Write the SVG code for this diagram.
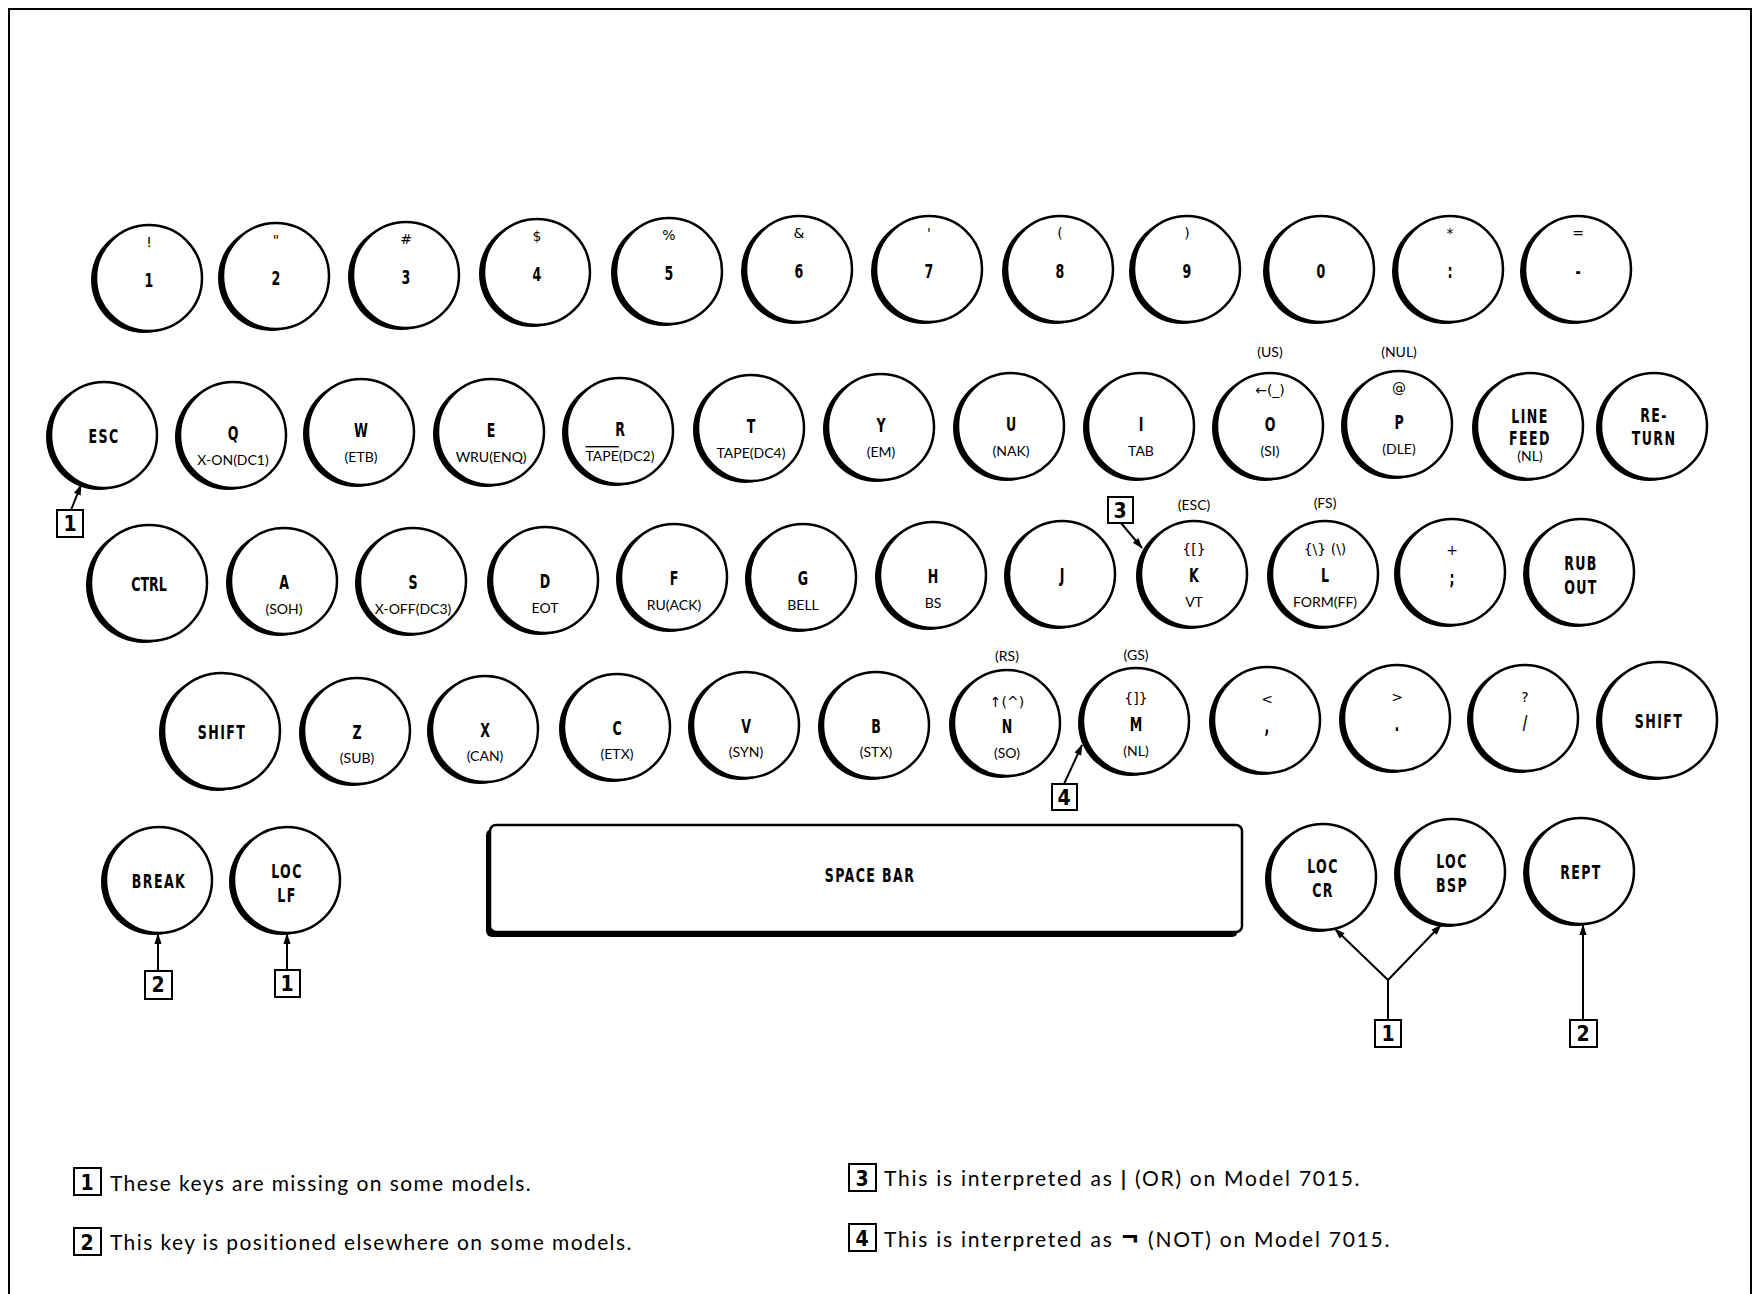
<svg xmlns="http://www.w3.org/2000/svg" xmlns:xlink="http://www.w3.org/1999/xlink" width="1758" height="1294" viewBox="0 0 1758 1294">
<style>
.m{font-family:"Liberation Sans Narrow","DejaVu Sans Condensed",sans-serif;font-weight:700;font-size:20px;text-anchor:middle;fill:#000;transform:scaleX(0.7)}
.w{letter-spacing:2px}
.s{font-family:Lato,"Noto Sans",sans-serif;font-size:14px;text-anchor:middle;fill:#000}
.u{font-family:"DejaVu Sans",sans-serif;font-size:14px;text-anchor:middle;fill:#000}
.fn{font-family:Lato,"Noto Sans",sans-serif;font-size:21px;letter-spacing:1.4px;fill:#000}
.fn2{letter-spacing:1.75px}
.bx{fill:#fff;stroke:#000;stroke-width:2}
.bn{font-family:"Liberation Sans Narrow","DejaVu Sans Condensed",sans-serif;font-weight:700;font-size:21px;text-anchor:middle}
.ln{stroke:#000;stroke-width:2;fill:none}
.fr{stroke:#000;stroke-width:2;fill:none}
</style>
<defs>
<g id="kc"><circle cx="-5" cy="2" r="53" fill="#000"/><circle r="53" fill="#fff" stroke="#000" stroke-width="2.5"/></g>
<g id="kl"><circle cx="-5" cy="2" r="58" fill="#000"/><circle r="58" fill="#fff" stroke="#000" stroke-width="2.5"/></g>
<marker id="ah" viewBox="0 0 12 10" refX="11" refY="5" markerWidth="12" markerHeight="9" orient="auto" markerUnits="userSpaceOnUse"><path d="M0,1 L12,5 L0,9 z" fill="#000"/></marker>
</defs>
<rect width="1758" height="1294" fill="#fff"/>
<g id="frame">
<path class="fr" d="M9,1294 V9 H1751 V1294"/>
</g>

<!-- Row 1 -->
<g id="key-1" transform="translate(149,278)"><use xlink:href="#kc"/><text class="u" y="-31">!</text><text class="m" y="9">1</text></g>
<g id="key-2" transform="translate(276,276)"><use xlink:href="#kc"/><text class="u" y="-31">"</text><text class="m" y="9">2</text></g>
<g id="key-3" transform="translate(406,275)"><use xlink:href="#kc"/><text class="u" y="-31">#</text><text class="m" y="9">3</text></g>
<g id="key-4" transform="translate(537,272)"><use xlink:href="#kc"/><text class="u" y="-31">$</text><text class="m" y="9">4</text></g>
<g id="key-5" transform="translate(669,271)"><use xlink:href="#kc"/><text class="u" y="-31">%</text><text class="m" y="9">5</text></g>
<g id="key-6" transform="translate(799,269)"><use xlink:href="#kc"/><text class="u" y="-31">&amp;</text><text class="m" y="9">6</text></g>
<g id="key-7" transform="translate(929,269)"><use xlink:href="#kc"/><text class="u" y="-31">'</text><text class="m" y="9">7</text></g>
<g id="key-8" transform="translate(1060,269)"><use xlink:href="#kc"/><text class="u" y="-31">(</text><text class="m" y="9">8</text></g>
<g id="key-9" transform="translate(1187,269)"><use xlink:href="#kc"/><text class="u" y="-31">)</text><text class="m" y="9">9</text></g>
<g id="key-0" transform="translate(1321,269)"><use xlink:href="#kc"/><text class="m" y="9">0</text></g>
<g id="key-colon" transform="translate(1450,269)"><use xlink:href="#kc"/><text class="u" y="-31">*</text><text class="m" y="9">:</text></g>
<g id="key-minus" transform="translate(1578,269)"><use xlink:href="#kc"/><text class="u" y="-31">=</text><text class="m" y="9">-</text></g>

<!-- Row 2 -->
<g id="key-esc" transform="translate(104,435)"><use xlink:href="#kc"/><text class="m w" y="8">ESC</text></g>
<g id="key-q" transform="translate(233,435)"><use xlink:href="#kc"/><text class="m" y="5">Q</text><text class="s" y="30">X-ON(DC1)</text></g>
<g id="key-w" transform="translate(361,432)"><use xlink:href="#kc"/><text class="m" y="5">W</text><text class="s" y="30">(ETB)</text></g>
<g id="key-e" transform="translate(491,432)"><use xlink:href="#kc"/><text class="m" y="5">E</text><text class="s" y="30">WRU(ENQ)</text></g>
<g id="key-r" transform="translate(620,431)"><use xlink:href="#kc"/><text class="m" y="5">R</text><text class="s" y="30"><tspan text-decoration="overline">TAPE</tspan>(DC2)</text></g>
<g id="key-t" transform="translate(751,428)"><use xlink:href="#kc"/><text class="m" y="5">T</text><text class="s" y="30">TAPE(DC4)</text></g>
<g id="key-y" transform="translate(881,427)"><use xlink:href="#kc"/><text class="m" y="5">Y</text><text class="s" y="30">(EM)</text></g>
<g id="key-u" transform="translate(1011,426)"><use xlink:href="#kc"/><text class="m" y="5">U</text><text class="s" y="30">(NAK)</text></g>
<g id="key-i" transform="translate(1141,426)"><use xlink:href="#kc"/><text class="m" y="5">I</text><text class="s" y="30">TAB</text></g>
<g id="key-o" transform="translate(1270,426)"><text class="s" y="-69">(US)</text><use xlink:href="#kc"/><text class="u" y="-31">←(_)</text><text class="m" y="5">O</text><text class="s" y="30">(SI)</text></g>
<g id="key-p" transform="translate(1399,424)"><text class="s" y="-67">(NUL)</text><use xlink:href="#kc"/><text class="u" y="-31">@</text><text class="m" y="5">P</text><text class="s" y="30">(DLE)</text></g>
<g id="key-linefeed" transform="translate(1530,426)"><use xlink:href="#kc"/><text class="m w" y="-3">LINE</text><text class="m w" y="19">FEED</text><text class="s" y="35">(NL)</text></g>
<g id="key-return" transform="translate(1654,426)"><use xlink:href="#kc"/><text class="m w" y="-4">RE-</text><text class="m w" y="19">TURN</text></g>

<!-- Row 3 -->
<g id="key-ctrl" transform="translate(149,583)"><use xlink:href="#kl"/><text class="m" y="8">CTRL</text></g>
<g id="key-a" transform="translate(284,581)"><use xlink:href="#kc"/><text class="m" y="8">A</text><text class="s" y="33">(SOH)</text></g>
<g id="key-s" transform="translate(413,581)"><use xlink:href="#kc"/><text class="m" y="8">S</text><text class="s" y="33">X-OFF(DC3)</text></g>
<g id="key-d" transform="translate(545,580)"><use xlink:href="#kc"/><text class="m" y="8">D</text><text class="s" y="33">EOT</text></g>
<g id="key-f" transform="translate(674,577)"><use xlink:href="#kc"/><text class="m" y="8">F</text><text class="s" y="33">RU(ACK)</text></g>
<g id="key-g" transform="translate(803,577)"><use xlink:href="#kc"/><text class="m" y="8">G</text><text class="s" y="33">BELL</text></g>
<g id="key-h" transform="translate(933,575)"><use xlink:href="#kc"/><text class="m" y="8">H</text><text class="s" y="33">BS</text></g>
<g id="key-j" transform="translate(1062,574)"><use xlink:href="#kc"/><text class="m" y="8">J</text></g>
<g id="key-k" transform="translate(1194,574)"><text class="s" y="-64">(ESC)</text><use xlink:href="#kc"/><text class="u" y="-20">{[}</text><text class="m" y="8">K</text><text class="s" y="33">VT</text></g>
<g id="key-l" transform="translate(1325,574)"><text class="s" y="-66">(FS)</text><use xlink:href="#kc"/><text class="u" y="-20">{\} (\)</text><text class="m" y="8">L</text><text class="s" y="33">FORM(FF)</text></g>
<g id="key-semicolon" transform="translate(1452,572)"><use xlink:href="#kc"/><text class="u" y="-17">+</text><text class="m" y="13">;</text></g>
<g id="key-rubout" transform="translate(1581,572)"><use xlink:href="#kc"/><text class="m w" y="-2">RUB</text><text class="m w" y="22">OUT</text></g>

<!-- Row 4 -->
<g id="key-shift-left" transform="translate(222,731)"><use xlink:href="#kl"/><text class="m w" y="8">SHIFT</text></g>
<g id="key-z" transform="translate(357,731)"><use xlink:href="#kc"/><text class="m" y="8">Z</text><text class="s" y="32">(SUB)</text></g>
<g id="key-x" transform="translate(485,729)"><use xlink:href="#kc"/><text class="m" y="8">X</text><text class="s" y="32">(CAN)</text></g>
<g id="key-c" transform="translate(617,727)"><use xlink:href="#kc"/><text class="m" y="8">C</text><text class="s" y="32">(ETX)</text></g>
<g id="key-v" transform="translate(746,725)"><use xlink:href="#kc"/><text class="m" y="8">V</text><text class="s" y="32">(SYN)</text></g>
<g id="key-b" transform="translate(876,725)"><use xlink:href="#kc"/><text class="m" y="8">B</text><text class="s" y="32">(STX)</text></g>
<g id="key-n" transform="translate(1007,723)"><text class="s" y="-62">(RS)</text><use xlink:href="#kc"/><text class="u" y="-16">↑(^)</text><text class="m" y="10">N</text><text class="s" y="35">(SO)</text></g>
<g id="key-m" transform="translate(1136,721)"><text class="s" y="-61">(GS)</text><use xlink:href="#kc"/><text class="u" y="-18">{]}</text><text class="m" y="10">M</text><text class="s" y="35">(NL)</text></g>
<g id="key-comma" transform="translate(1267,720)"><use xlink:href="#kc"/><text class="u" y="-16">&lt;</text><text class="m" y="13">,</text></g>
<g id="key-period" transform="translate(1397,718)"><use xlink:href="#kc"/><text class="u" y="-16">&gt;</text><text class="m" y="13">.</text></g>
<g id="key-slash" transform="translate(1525,718)"><use xlink:href="#kc"/><text class="u" y="-16">?</text><text class="m" y="11">/</text></g>
<g id="key-shift-right" transform="translate(1659,720)"><use xlink:href="#kl"/><text class="m w" y="8">SHIFT</text></g>

<!-- Row 5 -->
<g id="key-break" transform="translate(159,880)"><use xlink:href="#kc"/><text class="m w" y="8">BREAK</text></g>
<g id="key-loclf" transform="translate(287,880)"><use xlink:href="#kc"/><text class="m w" y="-2">LOC</text><text class="m w" y="22">LF</text></g>
<g id="key-space">
<rect x="486" y="829" width="752" height="108" rx="6" fill="#000"/>
<rect x="490" y="825" width="752" height="107" rx="6" fill="#fff" stroke="#000" stroke-width="2.5"/>
<g transform="translate(870,882)"><text class="m w">SPACE BAR</text></g>
</g>
<g id="key-loccr" transform="translate(1323,877)"><use xlink:href="#kc"/><text class="m w" y="-4">LOC</text><text class="m w" y="20">CR</text></g>
<g id="key-locbsp" transform="translate(1452,872)"><use xlink:href="#kc"/><text class="m w" y="-4">LOC</text><text class="m w" y="20">BSP</text></g>
<g id="key-rept" transform="translate(1581,871)"><use xlink:href="#kc"/><text class="m w" y="8">REPT</text></g>

<!-- Callout boxes -->
<g id="callout-esc"><rect class="bx" x="57" y="510" width="26" height="27"/><text class="bn" x="70" y="531">1</text></g>
<g id="callout-k"><rect class="bx" x="1108" y="497" width="25" height="26"/><text class="bn" x="1120" y="518">3</text></g>
<g id="callout-m"><rect class="bx" x="1052" y="784" width="25" height="26"/><text class="bn" x="1064" y="805">4</text></g>
<g id="callout-break"><rect class="bx" x="145" y="971" width="27" height="28"/><text class="bn" x="158" y="992">2</text></g>
<g id="callout-loclf"><rect class="bx" x="275" y="970" width="25" height="27"/><text class="bn" x="287" y="991">1</text></g>
<g id="callout-loc"><rect class="bx" x="1375" y="1020" width="26" height="27"/><text class="bn" x="1388" y="1041">1</text></g>
<g id="callout-rept"><rect class="bx" x="1570" y="1020" width="27" height="27"/><text class="bn" x="1583" y="1041">2</text></g>

<!-- Connectors -->
<g id="connectors">
<line class="ln" x1="71" y1="510" x2="81" y2="485" marker-end="url(#ah)"/>
<line class="ln" x1="1121" y1="523" x2="1142" y2="548" marker-end="url(#ah)"/>
<line class="ln" x1="1064" y1="784" x2="1082" y2="745" marker-end="url(#ah)"/>
<line class="ln" x1="158" y1="971" x2="158" y2="934" marker-end="url(#ah)"/>
<line class="ln" x1="287" y1="970" x2="287" y2="934" marker-end="url(#ah)"/>
<line class="ln" x1="1388" y1="1020" x2="1388" y2="980"/>
<line class="ln" x1="1388" y1="980" x2="1335" y2="929" marker-end="url(#ah)"/>
<line class="ln" x1="1388" y1="980" x2="1441" y2="925" marker-end="url(#ah)"/>
<line class="ln" x1="1583" y1="1020" x2="1583" y2="925" marker-end="url(#ah)"/>
</g>

<!-- Footnotes -->
<g id="footnotes">
<rect class="bx" x="74" y="1168" width="27" height="27"/><text class="bn" x="87" y="1190">1</text>
<text class="fn" x="110" y="1191">These keys are missing on some models.</text>
<rect class="bx" x="74" y="1228" width="27" height="27"/><text class="bn" x="87" y="1250">2</text>
<text class="fn" x="110" y="1250">This key is positioned elsewhere on some models.</text>
<rect class="bx" x="849" y="1164" width="27" height="27"/><text class="bn" x="862" y="1186">3</text>
<text class="fn fn2" x="884" y="1186">This is interpreted as <tspan font-weight="700">|</tspan> (OR) on Model 7015.</text>
<rect class="bx" x="849" y="1224" width="27" height="27"/><text class="bn" x="862" y="1246">4</text>
<text class="fn fn2" x="884" y="1247">This is interpreted as <tspan font-size="32px" font-weight="700">¬</tspan> (NOT) on Model 7015.</text>
</g>
</svg>
